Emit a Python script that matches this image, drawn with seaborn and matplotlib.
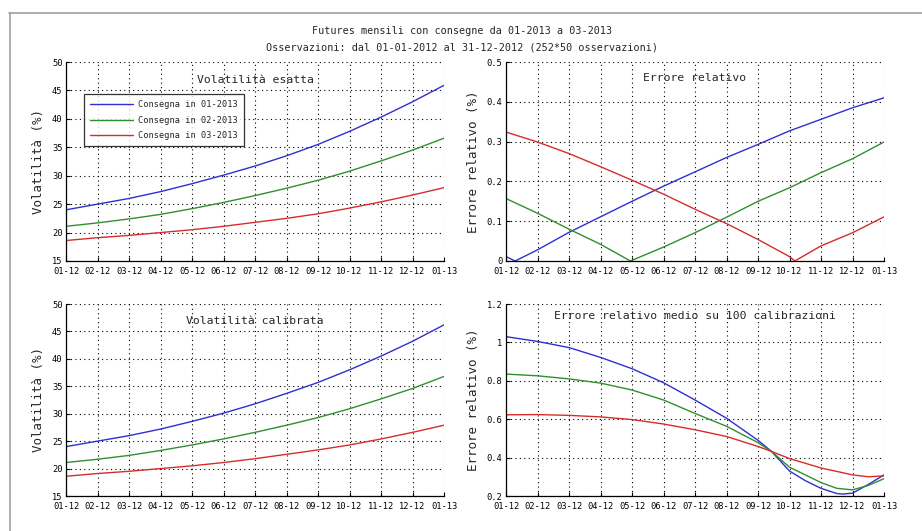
import matplotlib
matplotlib.use("Agg")
import matplotlib.pyplot as plt
from matplotlib.lines import Line2D
from matplotlib.ticker import FuncFormatter
import seaborn as sns
import pandas as pd

# ---------------- data ----------------
month_labels = ["01-12", "02-12", "03-12", "04-12", "05-12", "06-12", "07-12",
                "08-12", "09-12", "10-12", "11-12", "12-12", "01-13"]
series_names = ["Consegna in 01-2013", "Consegna in 02-2013", "Consegna in 03-2013"]
months = [0, 1, 2, 3, 4, 5, 6, 7, 8, 9, 10, 11, 12]

vol_exact_1 = [24.0, 25.0, 26.0, 27.2, 28.6, 30.1, 31.7, 33.5, 35.5, 37.8, 40.3, 43.0, 45.9]
vol_exact_2 = [21.1, 21.7, 22.4, 23.2, 24.2, 25.3, 26.5, 27.8, 29.2, 30.8, 32.6, 34.5, 36.6]
vol_exact_3 = [18.6, 19.1, 19.5, 20.0, 20.5, 21.1, 21.8, 22.5, 23.3, 24.3, 25.4, 26.6, 27.9]

vol_calib_1 = [24.0, 25.0, 26.0, 27.2, 28.6, 30.1, 31.8, 33.7, 35.7, 38.0, 40.5, 43.2, 46.2]
vol_calib_2 = [21.1, 21.7, 22.4, 23.3, 24.3, 25.4, 26.6, 27.9, 29.3, 30.9, 32.7, 34.6, 36.8]
vol_calib_3 = [18.6, 19.1, 19.5, 20.0, 20.5, 21.1, 21.8, 22.6, 23.4, 24.3, 25.4, 26.6, 27.9]

err_x_1 = [0, 0.29, 1, 2, 3, 4, 5, 6, 7, 8, 9, 10, 11, 12]
err_y_1 = [0.011, 0.0, 0.028, 0.072, 0.111, 0.150, 0.188, 0.224, 0.260, 0.293, 0.327, 0.356, 0.385, 0.410]
err_x_2 = [0, 1, 2, 3, 3.95, 5, 6, 7, 8, 9, 10, 11, 12]
err_y_2 = [0.157, 0.120, 0.080, 0.042, 0.0, 0.035, 0.071, 0.110, 0.150, 0.184, 0.222, 0.257, 0.299]
err_x_3 = [0, 1, 2, 3, 4, 5, 6, 7, 8, 9, 9.17, 10, 11, 12]
err_y_3 = [0.324, 0.299, 0.270, 0.237, 0.203, 0.168, 0.130, 0.094, 0.054, 0.011, 0.0, 0.038, 0.071, 0.111]

mean_x_1 = [0, 1, 2, 3, 4, 5, 6, 7, 8, 8.43, 9, 9.5, 10, 10.5, 10.7, 11, 11.5, 12]
mean_y_1 = [1.03, 1.005, 0.973, 0.922, 0.863, 0.79, 0.70, 0.605, 0.49, 0.432, 0.33, 0.28, 0.24, 0.213, 0.21, 0.215, 0.26, 0.31]
mean_x_2 = [0, 1, 2, 3, 4, 5, 6, 7, 8, 8.43, 9, 10, 10.5, 11, 11.5, 12]
mean_y_2 = [0.835, 0.826, 0.81, 0.788, 0.752, 0.70, 0.63, 0.563, 0.478, 0.432, 0.35, 0.27, 0.24, 0.232, 0.255, 0.29]
mean_x_3 = [0, 1, 2, 3, 4, 5, 6, 7, 8, 8.43, 9, 10, 11, 11.5, 12]
mean_y_3 = [0.623, 0.624, 0.62, 0.612, 0.598, 0.575, 0.545, 0.51, 0.458, 0.432, 0.395, 0.346, 0.31, 0.30, 0.305]

colors = ["#2f2fd2", "#2f8f2f", "#d62c2c"]

# ---------------- style ----------------
sns.set_theme(style="white")
mono = ["DejaVu Sans Mono", "DejaVu Sans"]
plt.rcParams["font.family"] = mono
plt.rcParams["axes.edgecolor"] = "black"
plt.rcParams["xtick.color"] = "black"
plt.rcParams["ytick.color"] = "black"

fig = plt.figure(figsize=(9.22, 5.31), dpi=100)
fig.patch.set_facecolor("white")

W = 0.41
axes_pos = {
    "tl": [66 / 922, 1 - 261 / 531, W, 199 / 531],
    "tr": [506 / 922, 1 - 261 / 531, W, 199 / 531],
    "bl": [66 / 922, 1 - 496 / 531, W, 192 / 531],
    "br": [506 / 922, 1 - 496 / 531, W, 192 / 531],
}
axs = {k: fig.add_axes(v) for k, v in axes_pos.items()}


def draw(ax, xs, ys, labels=None):
    for i, (x, y) in enumerate(zip(xs, ys)):
        df = pd.DataFrame({"x": x, "y": y})
        sns.lineplot(data=df, x="x", y="y", ax=ax, color=colors[i], linewidth=1.0,
                     label=(labels[i] if labels else None), legend=False, sort=False)


def style(ax, ylim, yticks, ylabel, title, title_y):
    ax.set_xlim(0, 12)
    ax.set_ylim(*ylim)
    ax.set_xticks(months)
    ax.set_xticklabels(month_labels)
    ax.set_yticks(yticks)
    ax.yaxis.set_major_formatter(FuncFormatter(lambda v, p: "%g" % round(v, 3)))
    ax.set_xlabel("")
    ax.set_ylabel(ylabel, fontsize=9, labelpad=5)
    ax.grid(True, linestyle=(0, (1, 3)), color="black", linewidth=0.8)
    for s in ["top", "right"]:
        ax.spines[s].set_visible(False)
    for s in ["left", "bottom"]:
        ax.spines[s].set_linewidth(0.9)
    ax.tick_params(axis="both", direction="in", length=3, width=0.8,
                   labelsize=6.3, bottom=True, left=True)
    ax.tick_params(axis="x", pad=4)
    ax.tick_params(axis="y", pad=2.5)
    ax.text(0.5, title_y, title, transform=ax.transAxes, ha="center", va="center",
            fontsize=8.2)


draw(axs["tl"], [months] * 3, [vol_exact_1, vol_exact_2, vol_exact_3], series_names)
style(axs["tl"], (15, 50), [15, 20, 25, 30, 35, 40, 45, 50], "Volatilità (%)",
      "Volatilità esatta", 0.91)
leg = axs["tl"].legend(loc="upper left", bbox_to_anchor=(0.035, 0.86), fontsize=6.2,
                       handlelength=5.0, handletextpad=0.6, frameon=True, fancybox=False,
                       edgecolor="black", borderpad=0.7, labelspacing=0.75)
leg.get_frame().set_linewidth(0.9)

draw(axs["tr"], [err_x_1, err_x_2, err_x_3], [err_y_1, err_y_2, err_y_3])
style(axs["tr"], (0, 0.5), [0, 0.1, 0.2, 0.3, 0.4, 0.5], "Errore relativo (%)",
      "Errore relativo", 0.92)

draw(axs["bl"], [months] * 3, [vol_calib_1, vol_calib_2, vol_calib_3])
style(axs["bl"], (15, 50), [15, 20, 25, 30, 35, 40, 45, 50], "Volatilità (%)",
      "Volatilità calibrata", 0.91)

draw(axs["br"], [mean_x_1, mean_x_2, mean_x_3], [mean_y_1, mean_y_2, mean_y_3])
style(axs["br"], (0.2, 1.2), [0.2, 0.4, 0.6, 0.8, 1.0, 1.2], "Errore relativo (%)",
      "Errore relativo medio su 100 calibrazioni", 0.935)

fig.text(0.501, 1 - 31 / 531, "Futures mensili con consegne da 01-2013 a 03-2013",
         ha="center", va="center", fontsize=7.3)
fig.text(0.501, 1 - 47 / 531,
         "Osservazioni: dal 01-01-2012 al 31-12-2012 (252*50 osservazioni)",
         ha="center", va="center", fontsize=7.3)

# window frame lines
fig.add_artist(Line2D([9 / 922, 1.0], [1 - 13 / 531, 1 - 13 / 531],
                      color="#a0a0a0", linewidth=1.2, transform=fig.transFigure))
fig.add_artist(Line2D([10 / 922, 10 / 922], [0, 1 - 13 / 531],
                      color="#a0a0a0", linewidth=1.2, transform=fig.transFigure))

fig.savefig("out.png", dpi=100)
